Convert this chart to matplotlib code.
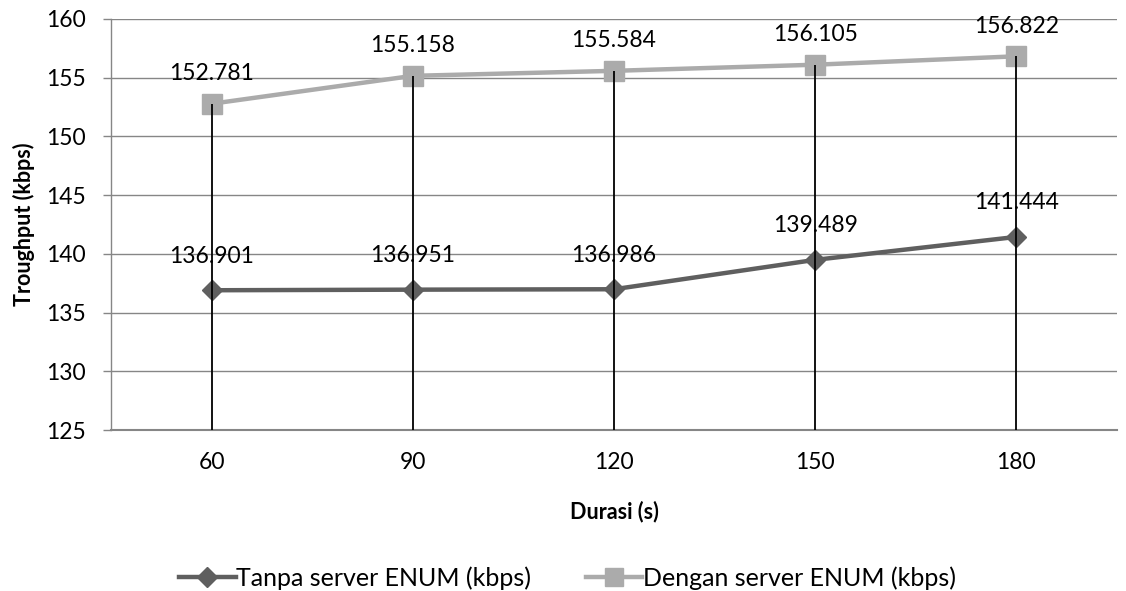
import matplotlib
matplotlib.use("Agg")
import matplotlib.pyplot as plt
from matplotlib.lines import Line2D

categories = ["60", "90", "120", "150", "180"]
tanpa = [136.901, 136.951, 136.986, 139.489, 141.444]
dengan = [152.781, 155.158, 155.584, 156.105, 156.822]
label_tanpa = "Tanpa server ENUM (kbps)"
label_dengan = "Dengan server ENUM (kbps)"
yticks = [125, 130, 135, 140, 145, 150, 155, 160]

plt.rcParams['font.family'] = ['Lato', 'DejaVu Sans']

fig = plt.figure(figsize=(11.26, 5.91), dpi=100)
ax = fig.add_axes([0.0986, 0.2724, 0.8934, 0.6955])

x = list(range(len(categories)))
dark = "#5f5f5f"
light = "#ababab"
fs = 16.5

ax.plot(x, tanpa, color=dark, lw=3.2, marker="D", ms=10, mec=dark, mfc=dark, zorder=3)
ax.plot(x, dengan, color=light, lw=3.2, marker="s", ms=14, mec=light, mfc=light, zorder=3)

# drop lines
for xi, a, b in zip(x, tanpa, dengan):
    ax.vlines(xi, 125, max(a, b), color="black", lw=1.3, zorder=4)

for xi, v in zip(x, tanpa):
    ax.annotate(f"{v:.3f}", (xi, v), xytext=(0, 17), textcoords="offset points",
                ha="center", va="bottom", fontsize=fs, color="black", zorder=5)
for xi, v in zip(x, dengan):
    ax.annotate(f"{v:.3f}", (xi, v), xytext=(0, 14), textcoords="offset points",
                ha="center", va="bottom", fontsize=fs, color="black", zorder=5)

ax.set_xlim(-0.5, len(categories) - 0.5)
ax.set_ylim(125, 160)
ax.set_yticks(yticks)
ax.set_yticklabels([str(t) for t in yticks], fontsize=fs)
ax.set_xticks(x)
ax.set_xticklabels(categories, fontsize=fs)
ax.tick_params(axis="x", length=0, pad=16)
ax.tick_params(axis="y", length=6, width=1, color="#868686", pad=12)
ax.grid(axis="y", color="#868686", lw=1)
ax.set_axisbelow(True)
for s in ["top", "right"]:
    ax.spines[s].set_visible(False)
ax.spines["left"].set_color("#868686")
ax.spines["bottom"].set_color("#868686")
ax.spines["left"].set_linewidth(1)
ax.spines["bottom"].set_linewidth(1.5)

ax.set_xlabel("Durasi (s)", fontsize=15.5, fontweight="bold", labelpad=20)
ax.set_ylabel("Troughput (kbps)", fontsize=15.5, fontweight="bold", labelpad=8)

handles = [
    Line2D([], [], color=dark, lw=3.2, marker="D", ms=10),
    Line2D([], [], color=light, lw=3.2, marker="s", ms=13),
]
fig.legend(handles, [label_tanpa, label_dengan], loc="center", bbox_to_anchor=(0.504, 0.022),
           ncol=2, frameon=False, fontsize=18, handlelength=2.25, handletextpad=0.02,
           columnspacing=2.2)

fig.savefig("out.png", dpi=100)
